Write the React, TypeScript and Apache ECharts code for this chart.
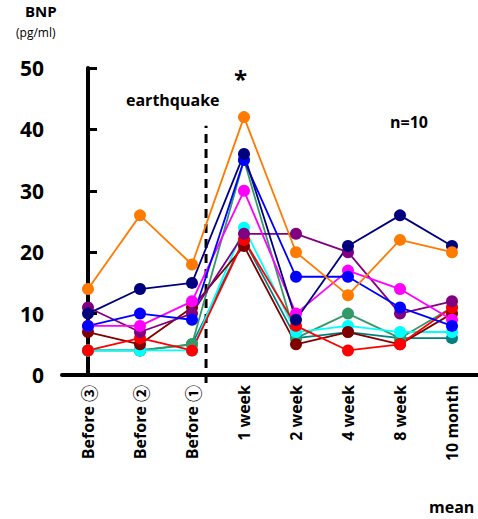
import React, { useEffect, useRef } from "react";
import * as echarts from "echarts";

const categories = ["Before ③", "Before ②", "Before ①", "1 week", "2 week", "4 week", "8 week", "10 month"];
const seriesNames = ["P1", "P2", "P3", "P4", "P5", "P6", "P7", "P8", "P9", "P10"];
const seriesColors = ["#ff7a00", "#00007f", "#0000ff", "#ff00ff", "#800080", "#800000", "#ff0000", "#008080", "#339966", "#00ffff"];
const orangeValues = [14, 26, 18, 42, 20, 13, 22, 20];
const navyValues = [10, 14, 15, 36, 9, 21, 26, 21];
const blueValues = [8, 10, 9, 35, 16, 16, 11, 8];
const magentaValues = [8, 8, 12, 30, 10, 17, 14, 9];
const purpleValues = [11, 7, 10, 23, 23, 20, 10, 12];
const maroonValues = [7, 5, 11, 21, 5, 7, 5, 10];
const redValues = [4, 6, 4, 22, 8, 4, 5, 11];
const tealValues = [4, 4, 5, 22, 6, 7, 6, 6];
const greenValues = [4, 4, 5, 35, 6, 10, 6, 11];
const cyanValues = [4, 4, 4, 24, 7, 8, 7, 7];
const allValues = [orangeValues, navyValues, blueValues, magentaValues, purpleValues, maroonValues, redValues, tealValues, greenValues, cyanValues];
const drawOrder = [7, 8, 9, 5, 6, 4, 3, 2, 1, 0];
const quakeLine = [[2.27, -1.3], [2.27, 40.6]];

const FONT = "'Open Sans', 'DejaVu Sans', sans-serif";

export default function App() {
  const ref = useRef<HTMLDivElement>(null);
  useEffect(() => {
    const chart = echarts.init(ref.current!, null, { renderer: "svg" });
    const series: any[] = drawOrder.map((i) => ({
      name: seriesNames[i],
      type: "line",
      data: allValues[i],
      symbol: "circle",
      symbolSize: 12,
      lineStyle: { color: seriesColors[i], width: 1.8 },
      itemStyle: { color: seriesColors[i] },
      z: 3,
    }));
    series.push({
      type: "line",
      xAxisIndex: 1,
      data: quakeLine,
      symbol: "none",
      clip: false,
      lineStyle: { color: "#000", width: 3, type: [9, 6] },
      z: 2,
    });
    chart.setOption({
      animation: false,
      grid: { left: 62, right: 0, top: 68, bottom: 144 },
      xAxis: [
        {
          type: "category",
          data: categories,
          boundaryGap: true,
          axisLine: { lineStyle: { color: "#000", width: 4 } },
          axisTick: { inside: true, length: 6, lineStyle: { color: "#000", width: 2 } },
          axisLabel: {
            rotate: 90,
            color: "#000",
            fontSize: 16,
            fontWeight: "bold",
            fontFamily: FONT,
            margin: 10,
            formatter: (v: string) => {
              const m = v.match(/^(.*) ([①②③])$/);
              return m ? `${m[1]} {c|${m[2]}}` : v;
            },
            rich: {
              c: { fontSize: 17, fontWeight: "bold", fontFamily: "'Noto Sans CJK JP', 'Noto Sans CJK SC', sans-serif", color: "#000" },
            },
          },
          splitLine: { show: false },
        },
        { type: "value", min: -0.5, max: 7.5, show: false },
      ],
      yAxis: {
        type: "value",
        min: 0,
        max: 50,
        interval: 10,
        axisLine: { show: true, lineStyle: { color: "#000", width: 4 } },
        axisTick: { show: true, inside: true, length: 9, lineStyle: { color: "#000", width: 3 } },
        axisLabel: { color: "#000", fontSize: 21, fontWeight: "bold", fontFamily: FONT, margin: 18 },
        splitLine: { show: false },
      },
      series,
      graphic: [
        { type: "text", left: 25, top: 3, style: { text: "BNP", fontSize: 15, fontWeight: "bold", fontFamily: FONT, fill: "#000" } },
        { type: "text", left: 16, top: 26, style: { text: "(pg/ml)", fontSize: 12, fontFamily: FONT, fill: "#000" } },
        { type: "text", left: 126, top: 92, style: { text: "earthquake", fontSize: 16, fontWeight: "bold", fontFamily: FONT, fill: "#000" } },
        { type: "text", left: 234, top: 66, style: { text: "*", fontSize: 24, fontWeight: "bold", fontFamily: FONT, fill: "#000" } },
        { type: "text", left: 390, top: 114, style: { text: "n=10", fontSize: 16, fontWeight: "bold", fontFamily: FONT, fill: "#000" } },
        { type: "text", left: 429, top: 499, style: { text: "mean", fontSize: 16, fontWeight: "bold", fontFamily: FONT, fill: "#000" } },
      ],
    });
    return () => chart.dispose();
  }, []);
  return <div ref={ref} style={{ width: 478, height: 519, position: "absolute", left: 0, top: 0 }} />;
}
